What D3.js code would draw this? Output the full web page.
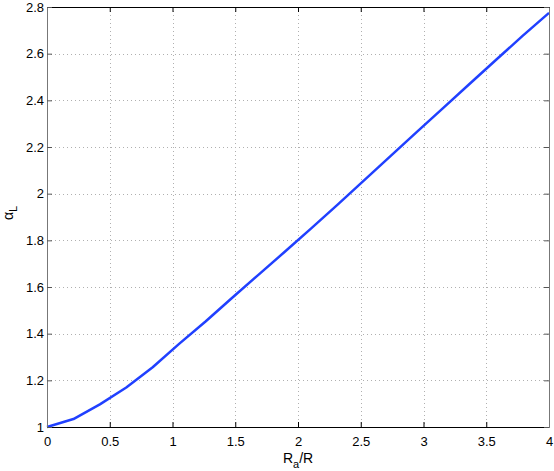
<!DOCTYPE html>
<html><head><meta charset="utf-8">
<script src="https://cdn.jsdelivr.net/npm/d3@7"></script>
<style>body{margin:0;background:#fff}svg{display:block}text{font-family:"Liberation Sans",Arial,sans-serif}</style>
</head><body><div id="c"></div>
<script>
const ratio = [0, 0.2105, 0.4211, 0.6316, 0.8421, 1.0526, 1.2632, 1.4737, 1.6842, 1.8947, 2.1053, 2.3158, 2.5263, 2.7368, 2.9474, 3.1579, 3.3684, 3.5789, 3.7895, 4];
const alphaL = [1.000, 1.034, 1.097, 1.169, 1.256, 1.356, 1.452, 1.553, 1.652, 1.751, 1.851, 1.953, 2.057, 2.161, 2.265, 2.368, 2.471, 2.574, 2.676, 2.775];
const xTicks = [0, 0.5, 1, 1.5, 2, 2.5, 3, 3.5, 4];
const xTickLabels = ["0", "0.5", "1", "1.5", "2", "2.5", "3", "3.5", "4"];
const yTicks = [1, 1.2, 1.4, 1.6, 1.8, 2, 2.2, 2.4, 2.6, 2.8];
const yTickLabels = ["1", "1.2", "1.4", "1.6", "1.8", "2", "2.2", "2.4", "2.6", "2.8"];

const W = 554, H = 471;
const m = {l: 47, t: 7, r: 5, b: 44};
const svg = d3.select("#c").append("svg").attr("width", W).attr("height", H);
const x = d3.scaleLinear().domain([0, 4]).range([m.l, W - m.r]);
const y = d3.scaleLinear().domain([1, 2.8]).range([H - m.b, m.t]);
const tl = 5;

// grid
const g = svg.append("g").attr("stroke", "#b0b0b0").attr("stroke-width", 1).attr("stroke-dasharray", "1,3");
g.selectAll(".gx").data(xTicks.slice(1, -1)).enter().append("line")
  .attr("x1", d => Math.round(x(d)) + 0.5).attr("x2", d => Math.round(x(d)) + 0.5)
  .attr("y1", m.t).attr("y2", H - m.b);
g.selectAll(".gy").data(yTicks.slice(1, -1)).enter().append("line")
  .attr("y1", d => Math.round(y(d)) + 0.5).attr("y2", d => Math.round(y(d)) + 0.5)
  .attr("x1", m.l).attr("x2", W - m.r);

// curve
svg.append("path").datum(ratio.map((r, i) => [r, alphaL[i]]))
  .attr("fill", "none").attr("stroke", "#2040ff").attr("stroke-width", 2.5)
  .attr("stroke-linejoin", "round")
  .attr("d", d3.line().x(d => x(d[0])).y(d => y(d[1])));

// axes with inward ticks
const fmtX = d => xTickLabels[xTicks.indexOf(d)];
const fmtY = d => yTickLabels[yTicks.indexOf(d)];
const axB = svg.append("g").attr("transform", `translate(0,${H - m.b})`)
  .call(d3.axisBottom(x).tickValues(xTicks).tickFormat(fmtX).tickSizeInner(-tl).tickSizeOuter(0).tickPadding(10));
const axT = svg.append("g").attr("transform", `translate(0,${m.t})`)
  .call(d3.axisTop(x).tickValues(xTicks).tickFormat("").tickSizeInner(-tl).tickSizeOuter(0));
const axL = svg.append("g").attr("transform", `translate(${m.l},0)`)
  .call(d3.axisLeft(y).tickValues(yTicks).tickFormat(fmtY).tickSizeInner(-tl).tickSizeOuter(0).tickPadding(3));
const axR = svg.append("g").attr("transform", `translate(${W - m.r},0)`)
  .call(d3.axisRight(y).tickValues(yTicks).tickFormat("").tickSizeInner(-tl).tickSizeOuter(0));
[axB, axT].forEach(a => { a.select(".domain").attr("stroke", "#000"); a.selectAll(".tick line").attr("stroke", "#000"); });
[axL, axR].forEach(a => { a.select(".domain").attr("stroke", "#777"); a.selectAll(".tick line").attr("stroke", "#555"); });
svg.selectAll(".tick text").attr("font-size", 13).attr("fill", "#000").attr("font-family", "Liberation Sans, Arial, sans-serif");

// axis labels
const xl = svg.append("text").attr("x", x(2)).attr("y", 463).attr("text-anchor", "middle").attr("font-size", 14);
xl.append("tspan").text("R");
xl.append("tspan").attr("dy", 5).attr("font-size", 11).text("a");
xl.append("tspan").attr("dy", -5).text("/R");

const yl = svg.append("text").attr("transform", `translate(13,${(m.t + H - m.b) / 2 - 4}) rotate(-90)`)
  .attr("text-anchor", "middle").attr("font-size", 14);
yl.append("tspan").text("α");
yl.append("tspan").attr("dy", 4).attr("font-size", 11).text("L");
</script></body></html>
